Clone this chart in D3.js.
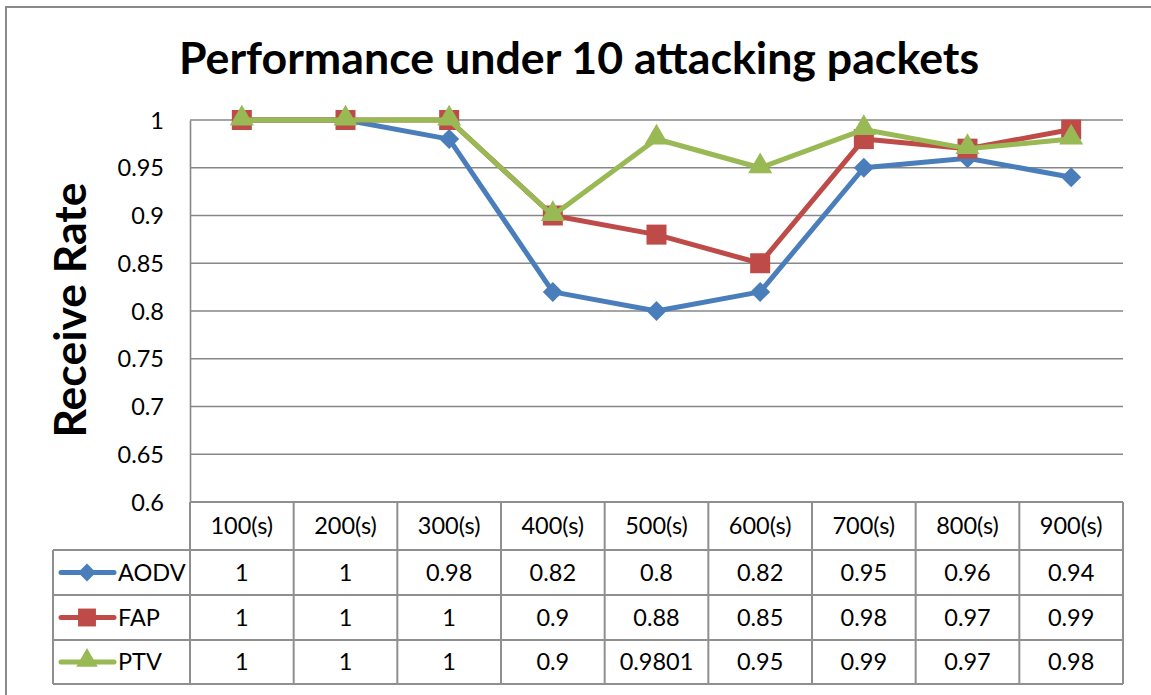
<!DOCTYPE html>
<html>
<head>
<meta charset="utf-8">
<script src="https://cdn.jsdelivr.net/npm/d3@7"></script>
<style>
  html, body { margin: 0; padding: 0; background: #fff; }
  svg { display: block; }
  text { font-family: Lato, "Open Sans", sans-serif; fill: #000; }
</style>
</head>
<body>
<script>
// Receive rate of three routing schemes over simulation time
const categories = ["100(s)", "200(s)", "300(s)", "400(s)", "500(s)", "600(s)", "700(s)", "800(s)", "900(s)"];
const seriesNames = ["AODV", "FAP", "PTV"];
const aodv = [1, 1, 0.98, 0.82, 0.8, 0.82, 0.95, 0.96, 0.94];
const fap  = [1, 1, 1, 0.9, 0.88, 0.85, 0.98, 0.97, 0.99];
const ptv  = [1, 1, 1, 0.9, 0.9801, 0.95, 0.99, 0.97, 0.98];
const yTicks = [0.6, 0.65, 0.7, 0.75, 0.8, 0.85, 0.9, 0.95, 1];
const titleText = "Performance under 10 attacking packets";
const yTitle = "Receive Rate";

const W = 1151, H = 695;
const plot = { left: 190, right: 1123, top: 120, bottom: 502 };
const rowEdges = [502, 550, 595, 640, 684];
const legendLeft = 53;
const labelSize = "23.5px";

const colors = { AODV: "#4A7EBB", FAP: "#BE4B48", PTV: "#98B954" };
const gridColor = "#878787";

const svg = d3.select("body").append("svg").attr("width", W).attr("height", H);

// outer chart frame (extends past the page edge on right and bottom)
svg.append("rect")
  .attr("x", 6).attr("y", 7).attr("width", W + 10).attr("height", H + 10)
  .attr("fill", "none").attr("stroke", "#8a8a8a").attr("stroke-width", 2);

const x = d3.scaleBand().domain(categories).range([plot.left, plot.right]).padding(0);
const y = d3.scaleLinear().domain([0.6, 1]).range([plot.bottom, plot.top]);
const cx = c => x(c) + x.bandwidth() / 2;

// horizontal gridlines
svg.append("g").selectAll("line").data(yTicks).join("line")
  .attr("x1", plot.left).attr("x2", plot.right)
  .attr("y1", d => y(d)).attr("y2", d => y(d))
  .attr("stroke", gridColor).attr("stroke-width", 1.6);

// value axis
const yAxis = d3.axisLeft(y).tickValues(yTicks).tickSize(0).tickPadding(26)
  .tickFormat(d => d3.format("")(+d.toFixed(2)));
const gy = svg.append("g").attr("transform", `translate(${plot.left},0)`).call(yAxis);
gy.select(".domain").attr("stroke", gridColor).attr("stroke-width", 1.6);
gy.selectAll("text").style("font-size", labelSize).style("font-family", "Lato, sans-serif").attr("dy", "0.35em");

// chart title
svg.append("text").attr("x", 579).attr("y", 74).attr("text-anchor", "middle")
  .style("font-size", "44.7px").style("font-weight", "bold").text(titleText);

// axis title
svg.append("text").attr("transform", "translate(86,310) rotate(-90)").attr("text-anchor", "middle")
  .style("font-size", "44.5px").style("font-weight", "bold").text(yTitle);

// series lines and markers (diamond = square turned 45 degrees)
const series = [
  { name: "AODV", values: aodv, marker: d3.symbolSquare, size: 200, rot: 45, dy: 0 },
  { name: "FAP", values: fap, marker: d3.symbolSquare, size: 400, rot: 0, dy: 0 },
  { name: "PTV", values: ptv, marker: d3.symbolTriangle, size: 250, rot: 0, dy: -1.5 }
];
const line = d3.line().x((d, i) => cx(categories[i])).y(d => y(d));

series.forEach(s => {
  const g = svg.append("g");
  g.append("path").datum(s.values).attr("d", line)
    .attr("fill", "none").attr("stroke", colors[s.name]).attr("stroke-width", 5)
    .attr("stroke-linejoin", "round").attr("stroke-linecap", "round");
  g.selectAll("path.m").data(s.values).join("path").attr("class", "m")
    .attr("d", d3.symbol().type(s.marker).size(s.size))
    .attr("transform", (d, i) => `translate(${cx(categories[i])},${y(d) + s.dy}) rotate(${s.rot})`)
    .attr("fill", colors[s.name]);
});

// data table
const tbl = svg.append("g");
const tStroke = "#8f8f8f";
// horizontal rules
rowEdges.forEach((ry, i) => {
  tbl.append("line").attr("x1", i < 1 ? plot.left : legendLeft).attr("x2", plot.right)
    .attr("y1", ry).attr("y2", ry).attr("stroke", tStroke).attr("stroke-width", 2);
});
// vertical rules
const colEdges = categories.map(c => x(c)).concat([plot.right]);
colEdges.forEach(cxv => {
  tbl.append("line").attr("x1", cxv).attr("x2", cxv).attr("y1", rowEdges[0]).attr("y2", rowEdges[4])
    .attr("stroke", tStroke).attr("stroke-width", 2);
});
tbl.append("line").attr("x1", legendLeft).attr("x2", legendLeft).attr("y1", rowEdges[1]).attr("y2", rowEdges[4])
  .attr("stroke", tStroke).attr("stroke-width", 2);

// header labels
tbl.selectAll("text.h").data(categories).join("text").attr("class", "h")
  .attr("x", d => cx(d)).attr("y", (rowEdges[0] + rowEdges[1]) / 2).attr("dy", "0.36em")
  .attr("text-anchor", "middle").style("font-size", labelSize).text(d => d);

// rows: legend key + values
series.forEach((s, r) => {
  const ymid = (rowEdges[r + 1] + rowEdges[r + 2]) / 2;
  tbl.append("line").attr("x1", 61).attr("x2", 114).attr("y1", ymid).attr("y2", ymid)
    .attr("stroke", colors[s.name]).attr("stroke-width", 5).attr("stroke-linecap", "round");
  tbl.append("path").attr("d", d3.symbol().type(s.marker).size(s.size * 0.8))
    .attr("transform", `translate(87,${ymid + s.dy}) rotate(${s.rot})`)
    .attr("fill", colors[s.name]);
  tbl.append("text").attr("x", 118).attr("y", ymid).attr("dy", "0.36em")
    .style("font-size", labelSize).text(s.name);
  tbl.selectAll(null).data(s.values).join("text")
    .attr("x", (d, i) => cx(categories[i])).attr("y", ymid).attr("dy", "0.36em")
    .attr("text-anchor", "middle").style("font-size", labelSize).text(d => String(d));
});
</script>
</body>
</html>
